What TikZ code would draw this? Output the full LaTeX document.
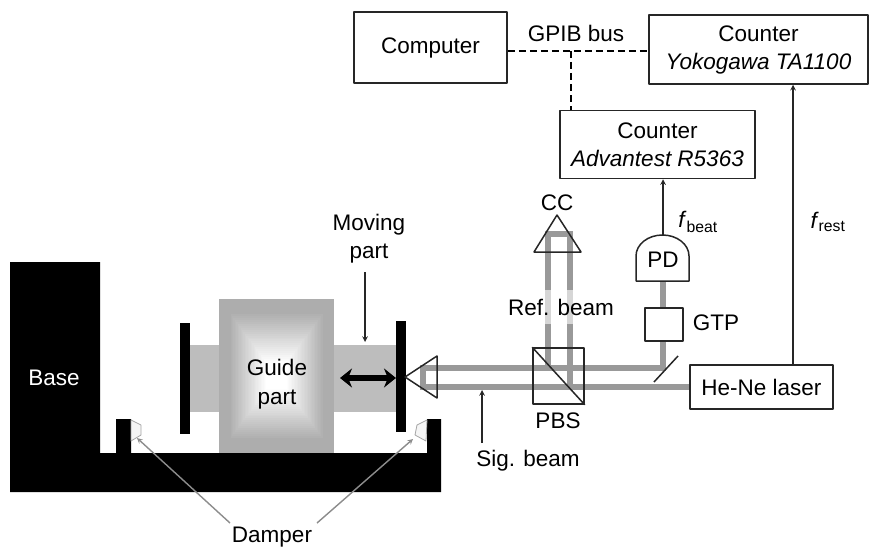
\documentclass[tikz,border=0pt]{standalone}
\usepackage{fontspec}
\usetikzlibrary{arrows.meta}
\setmainfont{Liberation Sans}
\definecolor{beamgray}{gray}{0.6}
\definecolor{rodgray}{gray}{0.74}
\definecolor{edgegray}{gray}{0.55}
\tikzset{
	box/.style={draw=black!85,line width=1.5pt,fill=white,inner sep=0pt,align=center},
	label/.style={inner sep=0pt,align=center},
	beam/.style={draw=beamgray,line width=6pt,line join=miter},
	wire/.style={->,line width=1.5pt,draw=black!85},
	optic/.style={line width=1.5pt,draw=black!85},
	damper/.style={draw=gray!70,fill=black!4,line width=.8pt},
	damperarrow/.style={->,line width=1.4pt,draw=edgegray}
}
\begin{document}
\begin{tikzpicture}[x=1pt,y=-1pt,>=stealth,font=\fontsize{22.5}{26}\selectfont,line join=round]
	\useasboundingbox (0,0) rectangle (870,551);
	% base and slide
	\fill[rodgray] (190,345) rectangle (397,412);
	\fill[black] (10,262)--(100,262)--(100,453)--(116,453)--(116,419)--(131,419)--(131,453)--(427,453)--(427,419)--(441,419)--(441,492)--(10,492)--cycle;
	\fill[black] (180,323) rectangle (190,434);
	\fill[black] (396,321) rectangle (406,432);
	\foreach \i in {0,1,...,40}
	{\pgfmathsetmacro{\g}{max(0,min(32,32-(\i-7)*1.25))}
		\fill[black!\g!white] (219+\i*1.4375,299+\i*1.925) rectangle (334-\i*1.4375,453-\i*1.925);}
	\node[label,text=white] (base) at (54,378) {Base};
	\node[label] (guide) at (277,384) {Guide\\[3pt]part};
	\draw[<->,line width=6pt,>={Stealth[length=12pt,width=19pt]}] (340,378)--(396,378);
	% dampers
	\draw[damper] (131,420)--(141,425)--(141,435)--(131,441)--cycle;
	\draw[damper] (427,420)--(417,425)--(415,435)--(426,441)--cycle;
	\node[label] (damper1) at (272,537) {Damper};
	\coordinate (dl) at (137,438);
	\coordinate (dr) at (413,439);
	\draw[damperarrow] (230,523)--(dl);
	\draw[damperarrow] (317,523)--(dr);
	% beams
	\draw[beam] (663,281)--(663,368)--(423,368)--(423,387)--(690,387);
	\draw[beam] (548,368)--(548,234)--(570,234)--(570,387);
	% optics
	\node[box,minimum width=51pt,minimum height=56pt,fill=none] (pbs) at (558.5,376) {};
	\draw[optic] (pbs.north west)--(pbs.south east);
	\draw[optic] (405,377)--(437,356)--(437,398)--cycle;
	\draw[optic] (557,215)--(581,252)--(534,252)--cycle;
	\draw[optic] (654,382)--(678,356);
	\node[box,minimum width=38pt,minimum height=33pt] (gtp) at (664,324.5) {};
	\draw[box] (636,281)--(636,256) arc (180:360:26.5 and 21)--(689,281)--cycle;
	\node[label] (pd) at (663,260) {PD};
	\coordinate (pdtop) at (663,235);
	\node[fill=white,fill opacity=.6,text opacity=1,label,minimum height=34pt] (ref) at (561,307) {Ref. beam};
	\node[label] (cc) at (557,203) {CC};
	\node[label] (pbstext) at (558,421) {PBS};
	\node[label] (gtptext) at (716,323) {GTP};
	\node[label] (moving) at (369,239) {Moving\\[2pt]part};
	\coordinate (movingtail) at (365,272);
	\coordinate (movingtip) at (365,342);
	\draw[wire] (movingtail)--(movingtip);
	\node[label] (sig) at (528,461) {Sig. beam};
	\coordinate (sigtail) at (482,443);
	\coordinate (sigtip) at (482,390);
	\draw[wire] (sigtail)--(sigtip);
	% instruments
	\node[box,minimum width=143pt,minimum height=44pt] (laser) at (761.5,387) {He-Ne laser};
	\node[box,minimum width=153pt,minimum height=71pt] (computer) at (430.5,47.5) {Computer};
	\node[box,minimum width=219pt,minimum height=69pt] (yoko) at (758.5,49.5) {Counter\\[2pt]\textit{Yokogawa TA1100}};
	\node[box,minimum width=195pt,minimum height=68pt] (adv) at (657.5,144.5) {Counter\\[2pt]\textit{Advantest R5363}};
	\node[label] (gpib) at (576,33) {GPIB bus};
	\draw[line width=1.5pt,dash pattern=on 7pt off 4pt] (computer.east |- 0,51)--(yoko.west |- 0,51);
	\draw[line width=1.5pt,dash pattern=on 7pt off 4pt] (571,51)--(adv.north -| 571,0);
	\draw[wire] (pdtop)--(pdtop |- adv.south);
	\draw[wire] (laser.north -| 793,0)--(yoko.south -| 793,0);
	\node[label] (fbeat) at (698,222) {\textit{f}\textsubscript{beat}};
	\node[label] (frest) at (828,222) {\textit{f}\textsubscript{rest}};
\end{tikzpicture}
\end{document}
